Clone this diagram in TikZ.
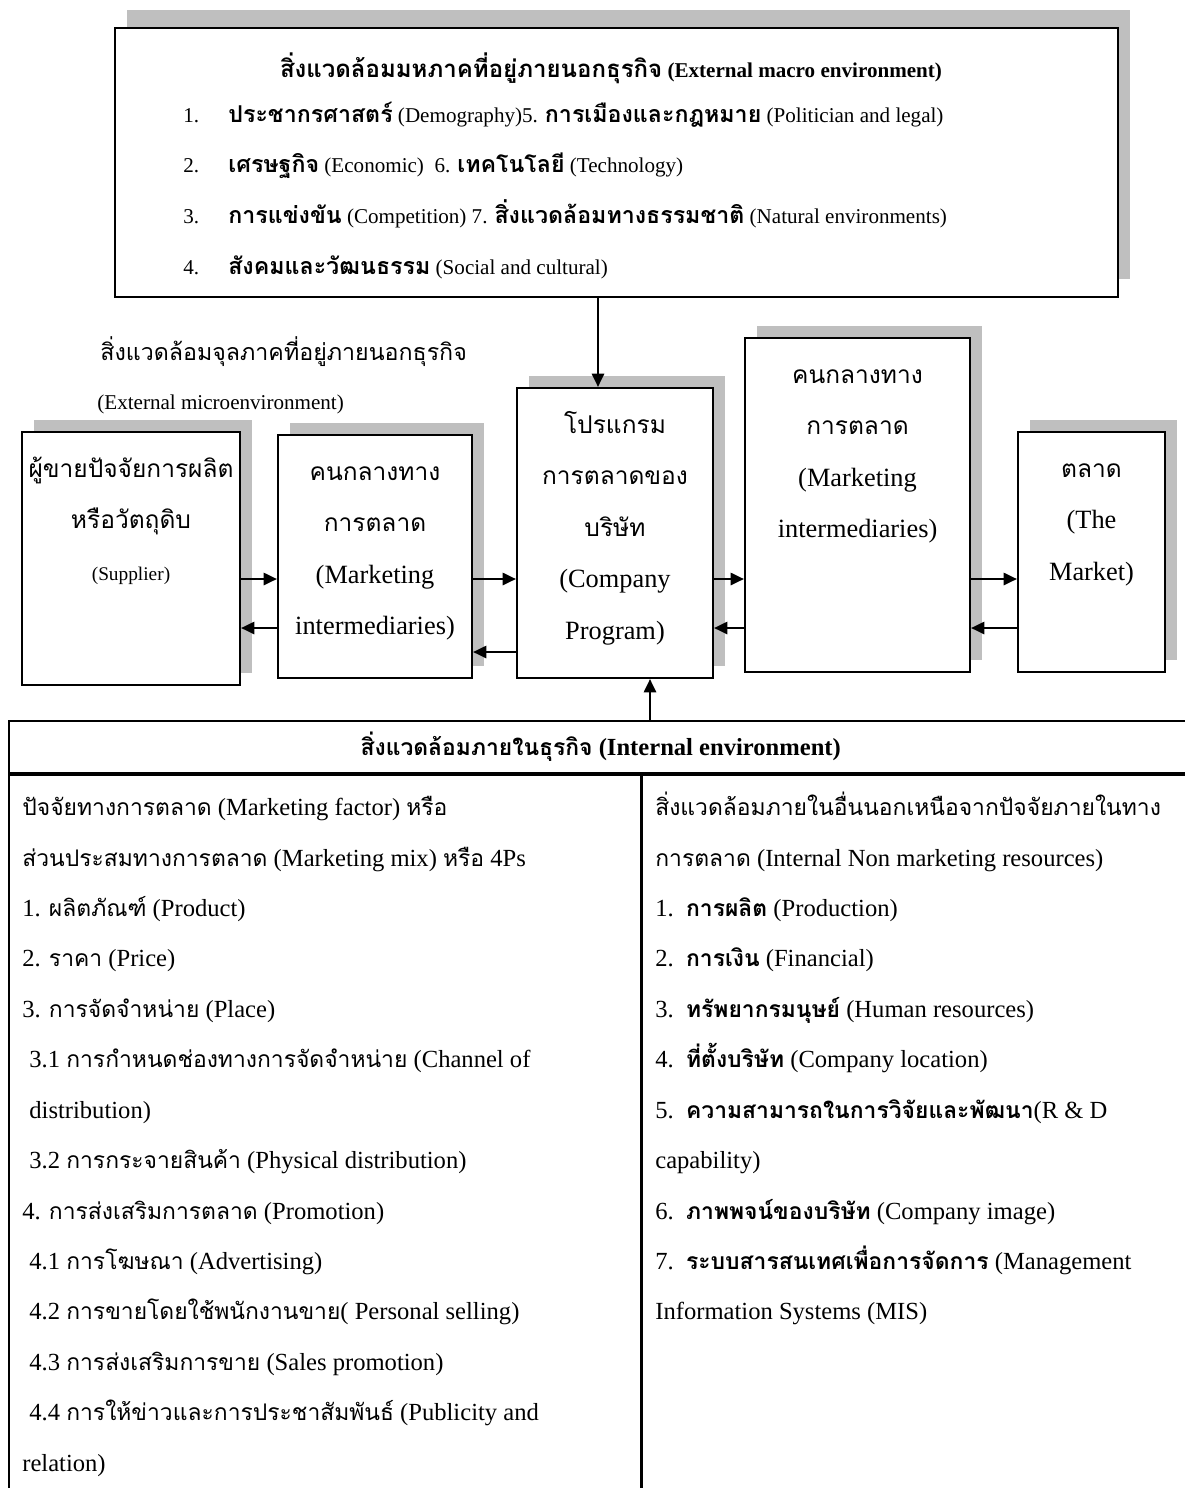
\documentclass[tikz,border=0pt]{standalone}
\usepackage{fontspec}
\setmainfont{Liberation Serif}
\newfontfamily\thaifont[Script=Thai, Scale=0.93]{Loma}
\newcommand{\tha}[1]{{\thaifont #1}}
\newcommand{\thab}[1]{{\thaifont\bfseries #1}}
\usetikzlibrary{shapes, arrows.meta, positioning, calc, shadows}

\begin{document}
\begin{tikzpicture}[
			x=0.02cm, y=-0.02cm,
			envbox/.style={rectangle, draw=black, line width=1.3pt, fill=white, inner sep=0pt,
				drop shadow={shadow xshift=6.8pt, shadow yshift=#1, fill=gray!50, opacity=1}},
			envbox/.default=6.8pt,
			boxtext/.style={align=center, inner sep=0pt, font=\fontsize{15}{29.3}\selectfont},
			listtext/.style={align=left, inner sep=0pt, anchor=north west, font=\fontsize{14}{28.7}\selectfont},
			cell/.style={rectangle, draw=black, line width=1pt, inner sep=0pt, anchor=north west},
			arrow/.style={-{Triangle[length=7.5pt, width=7pt]}, line width=1pt}
			]
			\useasboundingbox (0,0) rectangle (1185,1488);
			
			% external macro environment
			\node[envbox=10pt, minimum width=20.06cm, minimum height=5.38cm] (macro) at (616.5,162.5) {};
			\node[font=\fontsize{12}{14}\selectfont\bfseries] (macrotitle) at (611,68)
				{\tha{\fontsize{14.7}{16}\selectfont สิ่งแวดล้อมมหภาคที่อยู่ภายนอกธุรกิจ} (External macro environment)};
			\node[listtext, font=\fontsize{12}{29}\selectfont] (macrolist) at (183,86)
				{\strut\makebox[0.9cm][l]{1.}\thab{\fontsize{14.2}{14}\selectfont ประชากรศาสตร์} (Demography)5. \thab{\fontsize{14.2}{14}\selectfont การเมืองและกฎหมาย} (Politician and legal)\\
				\makebox[0.9cm][l]{2.}\thab{\fontsize{14.2}{14}\selectfont เศรษฐกิจ} (Economic)\ \ 6. \thab{\fontsize{14.2}{14}\selectfont เทคโนโลยี} (Technology)\\
				\makebox[0.9cm][l]{3.}\thab{\fontsize{14.2}{14}\selectfont การแข่งขัน} (Competition) 7. \thab{\fontsize{14.2}{14}\selectfont สิ่งแวดล้อมทางธรรมชาติ} (Natural environments)\\
				\makebox[0.9cm][l]{4.}\thab{\fontsize{14.2}{14}\selectfont สังคมและวัฒนธรรม} (Social and cultural)};
			
			% external micro environment
			\node[anchor=base west, inner sep=0pt, font=\fontsize{14.2}{18}\selectfont] (microtitle) at (100,360)
				{\tha{สิ่งแวดล้อมจุลภาคที่อยู่ภายนอกธุรกิจ}};
			\node[anchor=base west, inner sep=0pt, font=\fontsize{12}{14}\selectfont] (microsub) at (97,409)
				{(External microenvironment)};
			
			\node[envbox, minimum width=4.36cm, minimum height=5.06cm] (sup) at (131,558.5) {};
			\node[envbox, minimum width=3.88cm, minimum height=4.86cm] (mid1) at (375,556.5) {};
			\node[envbox, minimum width=3.92cm, minimum height=5.8cm] (prog) at (615,533) {};
			\node[envbox, minimum width=4.5cm, minimum height=6.68cm] (mid2) at (857.5,505) {};
			\node[envbox, minimum width=2.94cm, minimum height=4.8cm] (market) at (1091.5,552) {};
			
			\node[boxtext, below=0.2cm of sup.north] (suptext)
				{\strut\tha{ผู้ขายปัจจัยการผลิต}\\ \tha{หรือวัตถุดิบ}\\ {\fontsize{11}{13}\selectfont (Supplier)}};
			\node[boxtext, below=0.2cm of mid1.north] (mid1text)
				{\strut\tha{คนกลางทาง}\\ \tha{การตลาด}\\ (Marketing\\ intermediaries)};
			\node[boxtext, below=0.2cm of prog.north] (progtext)
				{\strut\tha{โปรแกรม}\\ \tha{การตลาดของ}\\ \tha{บริษัท}\\ (Company\\ Program)};
			\node[boxtext, below=0.2cm of mid2.north] (mid2text)
				{\strut\tha{คนกลางทาง}\\ \tha{การตลาด}\\ (Marketing\\ intermediaries)};
			\node[boxtext, below=0.2cm of market.north] (markettext)
				{\strut\tha{ตลาด}\\ (The\\ Market)};
			
			% flows between the boxes
			\coordinate (hi) at (0,579);
			\coordinate (lo) at (0,628);
			\coordinate (proglo) at (0,652);
			\draw[arrow] (sup.east |- hi) -- (mid1.west |- hi);
			\draw[arrow] (mid1.west |- lo) -- (sup.east |- lo);
			\draw[arrow] (mid1.east |- hi) -- (prog.west |- hi);
			\draw[arrow] (prog.west |- proglo) -- (mid1.east |- proglo);
			\draw[arrow] (prog.east |- hi) -- (mid2.west |- hi);
			\draw[arrow] (mid2.west |- lo) -- (prog.east |- lo);
			\draw[arrow] (mid2.east |- hi) -- (market.west |- hi);
			\draw[arrow] (market.west |- lo) -- (mid2.east |- lo);
			
			% internal environment
			\node[cell, minimum width=23.68cm, minimum height=1.04cm, font=\fontsize{14}{16}\selectfont\bfseries] (inhead) at (8,720)
				{\tha{\fontsize{14}{16}\selectfont สิ่งแวดล้อมภายในธุรกิจ} (Internal environment)};
			\node[cell, minimum width=12.64cm, minimum height=14.56cm] (leftcol) at (inhead.south west) {};
			\node[cell, minimum width=11.04cm, minimum height=14.56cm] (rightcol) at (leftcol.north east) {};
			
			\node[listtext] (mixlist) at (22,780)
				{\strut\tha{ปัจจัยทางการตลาด} (Marketing factor) \tha{หรือ}\\
				\tha{ส่วนประสมทางการตลาด} (Marketing mix) \tha{หรือ} 4Ps\\
				1. \tha{ผลิตภัณฑ์} (Product)\\
				2. \tha{ราคา} (Price)\\
				3. \tha{การจัดจำหน่าย} (Place)\\
				\hspace*{4pt}3.1 \tha{การกำหนดช่องทางการจัดจำหน่าย} (Channel of\\
				\hspace*{4pt}distribution)\\
				\hspace*{4pt}3.2 \tha{การกระจายสินค้า} (Physical distribution)\\
				4. \tha{การส่งเสริมการตลาด} (Promotion)\\
				\hspace*{4pt}4.1 \tha{การโฆษณา} (Advertising)\\
				\hspace*{4pt}4.2 \tha{การขายโดยใช้พนักงานขาย}( Personal selling)\\
				\hspace*{4pt}4.3 \tha{การส่งเสริมการขาย} (Sales promotion)\\
				\hspace*{4pt}4.4 \tha{การให้ข่าวและการประชาสัมพันธ์} (Publicity and\\
				relation)};
			\node[listtext] (resourcelist) at (655,780)
				{\strut\tha{สิ่งแวดล้อมภายในอื่นนอกเหนือจากปัจจัยภายในทาง}\\
				\tha{การตลาด} (Internal Non marketing resources)\\
				1.\ \ \thab{การผลิต} (Production)\\
				2.\ \ \thab{การเงิน} (Financial)\\
				3.\ \ \thab{ทรัพยากรมนุษย์} (Human resources)\\
				4.\ \ \thab{ที่ตั้งบริษัท} (Company location)\\
				5.\ \ \thab{ความสามารถในการวิจัยและพัฒนา}(R \& D\\
				capability)\\
				6.\ \ \thab{ภาพพจน์ของบริษัท} (Company image)\\
				7.\ \ \thab{ระบบสารสนเทศเพื่อการจัดการ} (Management\\
				Information Systems (MIS)};
			
			% macro and internal environment feed the company program
			\coordinate (down) at (598,0);
			\coordinate (up) at (650,0);
			\draw[arrow] (macro.south -| down) -- (prog.north -| down);
			\draw[arrow] (inhead.north -| up) -- (prog.south -| up);
		\end{tikzpicture}
\end{document}
